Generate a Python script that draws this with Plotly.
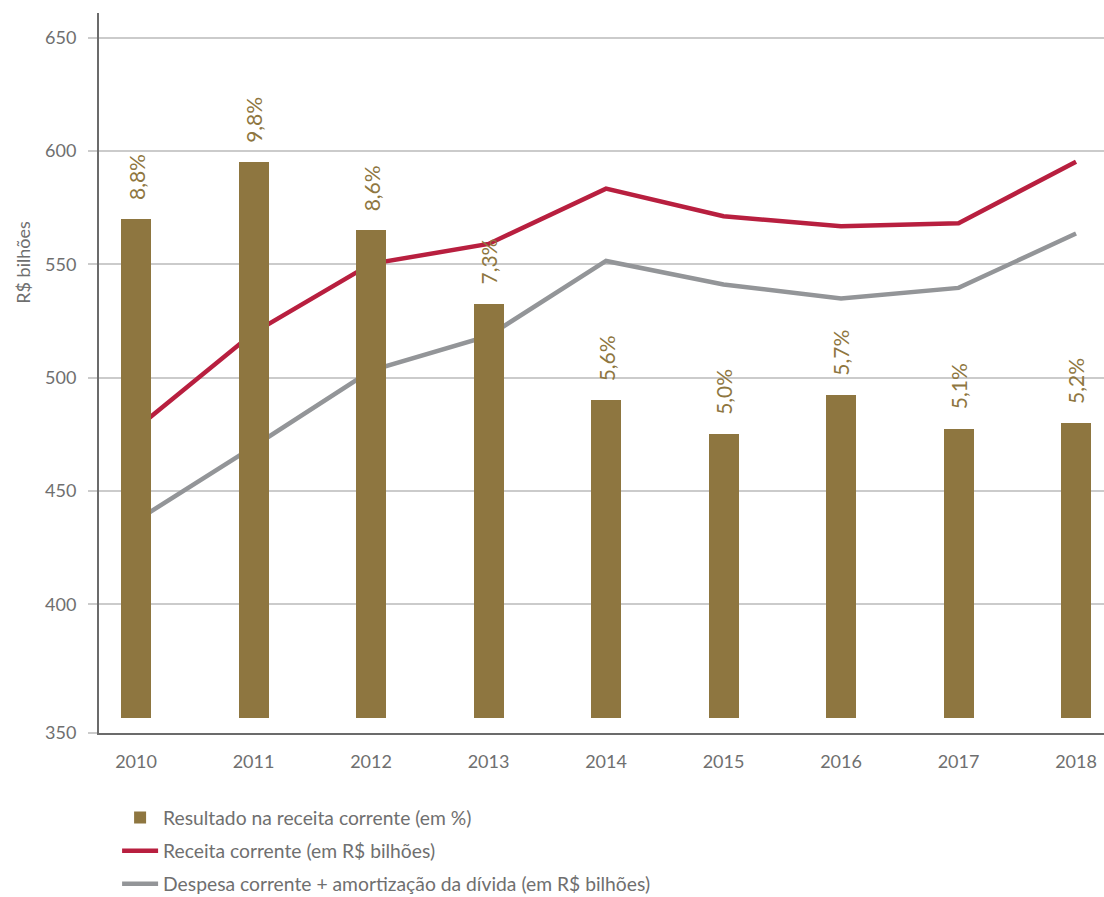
import plotly.graph_objects as go

# Data
years = [2010, 2011, 2012, 2013, 2014, 2015, 2016, 2017, 2018]
resultado_pct = [8.8, 9.8, 8.6, 7.3, 5.6, 5.0, 5.7, 5.1, 5.2]
receita_corrente = [477.5, 519.8, 550.2, 559.0, 583.4, 571.2, 566.8, 568.1, 595.3]
despesa_amortizacao = [436.8, 469.6, 503.1, 518.4, 551.5, 541.1, 534.9, 539.6, 563.6]

y_tick_labels = ["350", "400", "450", "500", "550", "600", "650"]
y_tick_values = [400, 450, 500, 550, 600, 650]

series_names = [
    "Resultado na receita corrente (em %)",
    "Receita corrente (em R$ bilhões)",
    "Despesa corrente + amortização da dívida (em R$ bilhões)",
]

# Styling
GOLD = "#8e7640"
RED = "#b81f3f"
GREY_LINE = "#939598"
TEXT = "#6f6f6f"
GRID = "#cbcbcb"
AXIS = "#6b6b6b"
FONT = "Lato, Liberation Sans, sans-serif"

# Left axis (R$ bilhões) and hidden right axis (%): 0% sits at 350, 1 p.p. = 25
Y_MIN, Y_MAX = 343.2, 660.9
PCT_BASE, PCT_SCALE = 350.0, 25.0
y2_range = [(Y_MIN - PCT_BASE) / PCT_SCALE, (Y_MAX - PCT_BASE) / PCT_SCALE]

fig = go.Figure()

fig.add_trace(go.Bar(
    x=years, y=resultado_pct, yaxis="y2",
    name=series_names[0], legendgroup="a",
    marker=dict(color=GOLD, line=dict(width=0)),
    width=0.255,
))
fig.add_trace(go.Scatter(
    x=years, y=receita_corrente, mode="lines",
    name=series_names[1], legendgroup="b",
    line=dict(color=RED, width=4.5),
))
fig.add_trace(go.Scatter(
    x=years, y=despesa_amortizacao, mode="lines",
    name=series_names[2], legendgroup="c",
    line=dict(color=GREY_LINE, width=4.5),
))

# Rotated percentage labels above each bar
for yr, p in zip(years, resultado_pct):
    fig.add_annotation(
        x=yr, y=p, xref="x", yref="y2",
        text=f"{p:.1f}".replace(".", ",") + "%",
        textangle=-90, showarrow=False,
        xanchor="center", yanchor="bottom", yshift=17,
        font=dict(family=FONT, size=21, color=GOLD),
    )

# Axis title
fig.add_annotation(
    x=-0.076, y=0.654, xref="paper", yref="paper",
    text="R$ bilhões", textangle=-90, showarrow=False,
    xanchor="center", yanchor="middle",
    font=dict(family=FONT, size=18, color=TEXT),
)

fig.update_layout(
    width=1104, height=897,
    margin=dict(l=99, r=0, t=13, b=164, autoexpand=False),
    paper_bgcolor="white", plot_bgcolor="white",
    font=dict(family=FONT, size=18, color=TEXT),
    showlegend=True,
    legend=dict(
        orientation="v", x=0.018, y=-0.091, xanchor="left", yanchor="top",
        traceorder="grouped", tracegroupgap=5, itemwidth=36,
        font=dict(family=FONT, size=19.3, color=TEXT),
        bgcolor="rgba(0,0,0,0)",
    ),
    xaxis=dict(
        range=[2009.685, 2018.238],
        tickvals=years, ticktext=[str(y) for y in years],
        showgrid=False, zeroline=False,
        showline=True, linecolor=AXIS, linewidth=2,
        ticks="", ticklabelstandoff=11,
        tickfont=dict(family=FONT, size=18, color=TEXT),
    ),
    yaxis=dict(
        range=[Y_MIN, Y_MAX],
        tickvals=[Y_MIN] + y_tick_values, ticktext=y_tick_labels,
        showgrid=True, gridcolor=GRID, gridwidth=2,
        zeroline=False,
        showline=True, linecolor=AXIS, linewidth=2,
        ticks="outside", ticklen=9, tickwidth=2, tickcolor=GRID,
        ticklabelstandoff=8,
        tickfont=dict(family=FONT, size=18, color=TEXT),
    ),
    yaxis2=dict(
        range=y2_range, overlaying="y", side="right",
        visible=False, showgrid=False, zeroline=False,
    ),
    bargap=0,
)

fig.write_html("out.html")
